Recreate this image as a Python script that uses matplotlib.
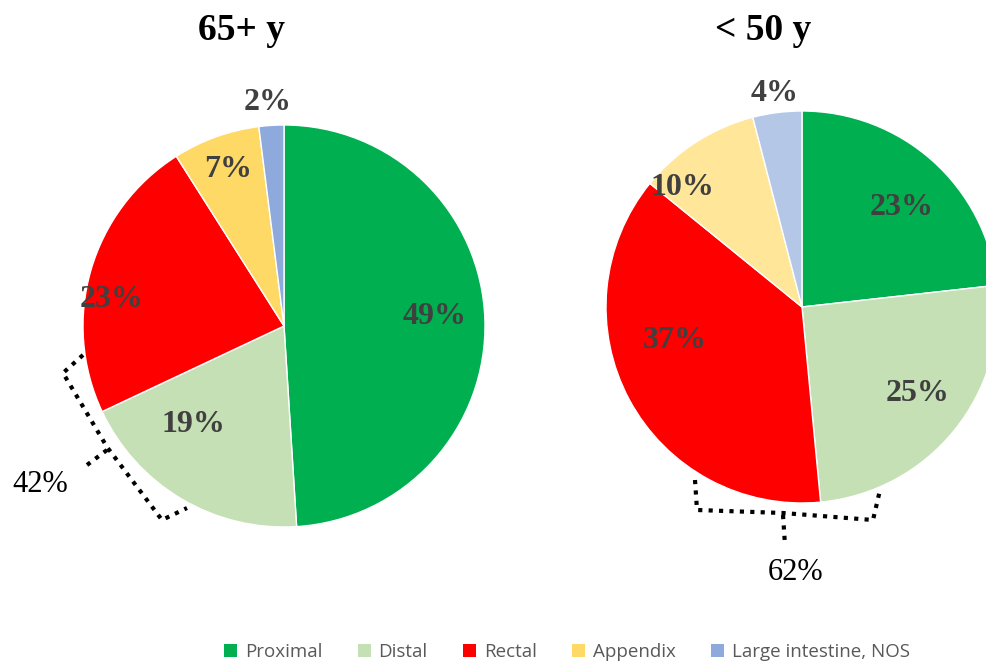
import matplotlib.pyplot as plt
from matplotlib.patches import Patch

# share of tumour site by age group
sites = ['Proximal', 'Distal', 'Rectal', 'Appendix', 'Large intestine, NOS']
old_pct = [49, 19, 23, 7, 2]
young_pct = [23, 25, 37, 10, 4]
old_group = '65+ y'
young_group = '< 50 y'
old_left = 42     # distal + rectal
young_left = 62

legend_colors = ['#00B050', '#C5E0B4', '#FF0000', '#FFD966', '#8EA9DB']
young_colors = ['#00B050', '#C5E0B4', '#FF0000', '#FFE699', '#B4C7E7']

W, H = 986, 666
fig = plt.figure(figsize=(W / 100, H / 100), dpi=100)
ax = fig.add_axes([0, 0, 1, 1])

serif = ['Liberation Serif', 'DejaVu Serif']

def draw_pie(vals, colors, cx, cy, r, label_pos):
    ax.pie(vals, colors=colors, startangle=90, counterclock=False,
           center=(cx, cy), radius=r,
           wedgeprops=dict(edgecolor='white', linewidth=1))
    for v, (dx, dy) in zip(vals, label_pos):
        ax.text(cx + dx * r, cy + dy * r, f'{v}%', ha='center', va='center',
                fontsize=23, fontweight='bold', color='#404040', family=serif)

# 65+ pie
ocx, ocy, orad = 284, H - 326, 201
draw_pie(old_pct, legend_colors, ocx, ocy, orad,
         [(0.75, 0.045), (-0.45, -0.49), (-0.86, 0.13), (-0.28, 0.78), (-0.08, 1.11)])
ax.text(242, H - 30, old_group, ha='center', va='center', fontsize=27,
        fontweight='bold', family=serif)

# < 50 pie
ycx, ycy, yrad = 802, H - 307, 196
draw_pie(young_pct, young_colors, ycx, ycy, yrad,
         [(0.51, 0.51), (0.59, -0.44), (-0.65, -0.17), (-0.61, 0.61), (-0.14, 1.09)])
ax.text(763, H - 30, young_group, ha='center', va='center', fontsize=27,
        fontweight='bold', family=serif)

# pie() resets the limits, so fix the pixel frame afterwards
ax.set_xlim(0, W)
ax.set_ylim(0, H)
ax.set_aspect('equal')
ax.axis('off')

# dotted brackets grouping distal + rectal
dot = dict(color='black', linewidth=3, linestyle=(0, (1, 1.5)),
           solid_capstyle='butt')
bx = [83, 63, 107, 162, 187]
by = [355, 373, 447, 520, 508]
ax.plot(bx, [H - v for v in by], **dot)
ax.plot([107, 87], [H - 450, H - 465], **dot)
ax.text(40, H - 484, f'{old_left}%', ha='center', va='center', fontsize=22,
        family=serif)

bx = [695, 697, 783, 873, 880]
by = [480, 510, 513, 520, 490]
ax.plot(bx, [H - v for v in by], **dot)
ax.plot([783, 785], [H - 515, H - 545], **dot)
ax.text(796, H - 572, f'{young_left}%', ha='center', va='center', fontsize=22,
        family=serif)

handles = [Patch(facecolor=c, edgecolor='none') for c in legend_colors]
fig.legend(handles, sites, loc='center', bbox_to_anchor=(567 / W, 1 - 652 / H),
           ncol=5, frameon=False, handlelength=0.7, handleheight=0.7,
           handletextpad=0.4, columnspacing=1.9,
           prop=dict(family='Open Sans', size=13.5), labelcolor='#595959')

fig.savefig('out.png', dpi=100)
